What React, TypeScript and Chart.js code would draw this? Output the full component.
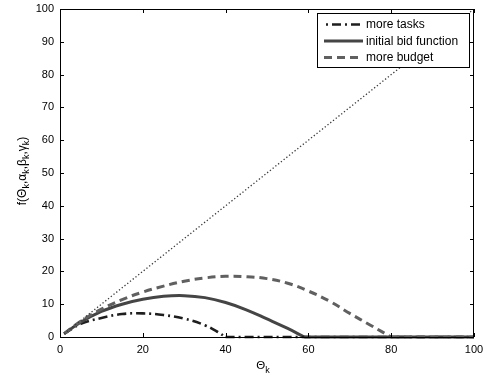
import React, { useEffect, useRef } from "react";
import { Chart, registerables } from "chart.js";

Chart.register(...registerables);

// ---- data ----
const thetaTasks = [1, 5, 10, 15, 20, 25, 30, 35, 38, 40];
const fTasks = [1, 4, 5.8, 7, 7.2, 6.7, 5.6, 3.6, 1.6, 0];

const thetaInitial = [1, 5, 10, 15, 20, 25, 30, 35, 40, 45, 50, 55, 59];
const fInitial = [1, 4.5, 7.8, 10, 11.5, 12.4, 12.6, 12, 10.5, 8.3, 5.5, 2.6, 0];

const thetaBudget = [1, 5, 10, 15, 20, 25, 30, 35, 40, 45, 50, 55, 60, 65, 70, 75, 80];
const fBudget = [1, 4.8, 8.5, 11.4, 13.7, 15.5, 17, 18, 18.5, 18.4, 17.8, 16.4, 14, 11, 7.2, 3.6, 0];

const thetaEnd = 100;
const diagTheta = [1, 100];

const xTicks = [0, 20, 40, 60, 80, 100];
const yTicks = [0, 10, 20, 30, 40, 50, 60, 70, 80, 90, 100];

const legendLabels = ["more tasks", "initial bid function", "more budget"];

const FONT = '"Liberation Sans", Arial, Helvetica, sans-serif';

const styles = [
  { color: "#1e1e1e", width: 2.6, dash: [9, 4, 2, 4] },
  { color: "#454545", width: 3, dash: [] as number[] },
  { color: "#606060", width: 3, dash: [8, 5] },
];

function pts(xs: number[], ys: number[]) {
  return xs.map((x, i) => ({ x, y: ys[i] }));
}

function drawSubText(
  ctx: CanvasRenderingContext2D,
  parts: { t: string; sub?: boolean }[],
  size: number,
  subSize: number,
  subShift: number
) {
  let total = 0;
  const widths = parts.map((p) => {
    ctx.font = `${p.sub ? subSize : size}px ${FONT}`;
    const w = ctx.measureText(p.t).width;
    total += w;
    return w;
  });
  let x = -total / 2;
  parts.forEach((p, i) => {
    ctx.font = `${p.sub ? subSize : size}px ${FONT}`;
    ctx.fillText(p.t, x, p.sub ? subShift : 0);
    x += widths[i];
  });
}

const framePlugin = {
  id: "matlabFrame",
  afterDatasetsDraw(chart: any) {
    const { ctx, chartArea: a, scales } = chart;
    const xs = scales.x;
    const ys = scales.y;
    ctx.save();
    ctx.strokeStyle = "#000";
    ctx.lineWidth = 1;
    ctx.setLineDash([]);
    ctx.strokeRect(Math.round(a.left) + 0.5, Math.round(a.top) + 0.5, Math.round(a.right - a.left) - 1, Math.round(a.bottom - a.top));
    const tl = 4;
    ctx.beginPath();
    xTicks.forEach((v) => {
      const px = Math.round(xs.getPixelForValue(v)) + 0.5;
      ctx.moveTo(px, a.bottom);
      ctx.lineTo(px, a.bottom - tl);
      ctx.moveTo(px, a.top);
      ctx.lineTo(px, a.top + tl);
    });
    yTicks.forEach((v) => {
      const py = Math.round(ys.getPixelForValue(v)) + 0.5;
      ctx.moveTo(a.left, py);
      ctx.lineTo(a.left + tl, py);
      ctx.moveTo(a.right, py);
      ctx.lineTo(a.right - tl, py);
    });
    ctx.stroke();

    ctx.fillStyle = "#000";
    ctx.font = `11px ${FONT}`;
    ctx.textAlign = "center";
    ctx.textBaseline = "alphabetic";
    xTicks.forEach((v) => {
      ctx.fillText(String(v), xs.getPixelForValue(v), a.bottom + 16);
    });
    ctx.textAlign = "right";
    ctx.textBaseline = "middle";
    yTicks.forEach((v) => {
      ctx.fillText(String(v), a.left - 6, ys.getPixelForValue(v));
    });

    ctx.textAlign = "left";
    ctx.textBaseline = "alphabetic";
    ctx.save();
    ctx.translate((a.left + a.right) / 2 - 4, 369);
    drawSubText(ctx, [{ t: "Θ" }, { t: "k", sub: true }], 11.5, 9, 4);
    ctx.restore();

    ctx.save();
    ctx.translate(25.5, (a.top + a.bottom) / 2 - 2);
    ctx.rotate(-Math.PI / 2);
    drawSubText(
      ctx,
      [
        { t: "f(Θ" },
        { t: "k", sub: true },
        { t: ",α" },
        { t: "k", sub: true },
        { t: ",β" },
        { t: "k", sub: true },
        { t: ",γ" },
        { t: "k", sub: true },
        { t: ")" },
      ],
      12,
      9,
      3.5
    );
    ctx.restore();

    const lx = 317, ly = 13, lw = 152, lh = 54;
    ctx.fillStyle = "#fff";
    ctx.fillRect(lx, ly, lw, lh);
    ctx.strokeStyle = "#000";
    ctx.lineWidth = 1;
    ctx.strokeRect(lx + 0.5, ly + 0.5, lw, lh);
    const rows = [24.5, 41, 57.5];
    legendLabels.forEach((lab, i) => {
      const s = styles[i];
      ctx.beginPath();
      ctx.strokeStyle = s.color;
      ctx.lineWidth = s.width;
      ctx.setLineDash(s.dash);
      ctx.lineDashOffset = i === 0 ? 11 : 0;
      ctx.moveTo(324, rows[i]);
      ctx.lineTo(363, rows[i]);
      ctx.stroke();
      ctx.setLineDash([]);
      ctx.fillStyle = "#000";
      ctx.font = `12px ${FONT}`;
      ctx.textAlign = "left";
      ctx.textBaseline = "middle";
      ctx.fillText(lab, 366, rows[i] + 0.5);
    });
    ctx.restore();
  },
};

export default function App() {
  const ref = useRef<HTMLCanvasElement | null>(null);
  useEffect(() => {
    if (!ref.current) return;
    const mk = (label: string, data: any[], i: number, tension = 0.4) => ({
      label,
      data,
      borderColor: styles[i].color,
      borderWidth: styles[i].width,
      borderDash: styles[i].dash,
      pointRadius: 0,
      fill: false,
      tension,
      clip: { left: 0, top: 0, right: 2, bottom: 3 },
    });
    const chart = new Chart(ref.current, {
      type: "line",
      data: {
        datasets: [
          {
            label: "diag",
            data: pts(diagTheta, diagTheta),
            borderColor: "#3a3a3a",
            borderWidth: 1.3,
            borderDash: [1.3, 2.2],
            pointRadius: 0,
            fill: false,
          } as any,
          mk("tail budget", pts([thetaBudget[thetaBudget.length - 1], thetaEnd], [0, 0]), 2, 0),
          mk("tail initial", pts([thetaInitial[thetaInitial.length - 1], thetaEnd], [0, 0]), 1, 0),
          mk("tail tasks", pts([thetaTasks[thetaTasks.length - 1], thetaEnd], [0, 0]), 0, 0),
          mk(legendLabels[2], pts(thetaBudget, fBudget), 2),
          mk(legendLabels[1], pts(thetaInitial, fInitial), 1),
          mk(legendLabels[0], pts(thetaTasks, fTasks), 0),
        ],
      },
      options: {
        animation: false,
        responsive: false,
        maintainAspectRatio: false,
        layout: { padding: { left: 60, right: 10, top: 9, bottom: 39 } },
        plugins: { legend: { display: false }, tooltip: { enabled: false } },
        scales: {
          x: { type: "linear", min: 0, max: 100, display: false },
          y: { type: "linear", min: 0, max: 100, display: false },
        },
      },
      plugins: [framePlugin],
    } as any);
    return () => chart.destroy();
  }, []);
  return (
    <div style={{ position: "fixed", left: 0, top: 0, width: 484, height: 376, background: "#fff" }}>
      <canvas ref={ref} width={484} height={376} style={{ width: 484, height: 376, display: "block" }} />
    </div>
  );
}
